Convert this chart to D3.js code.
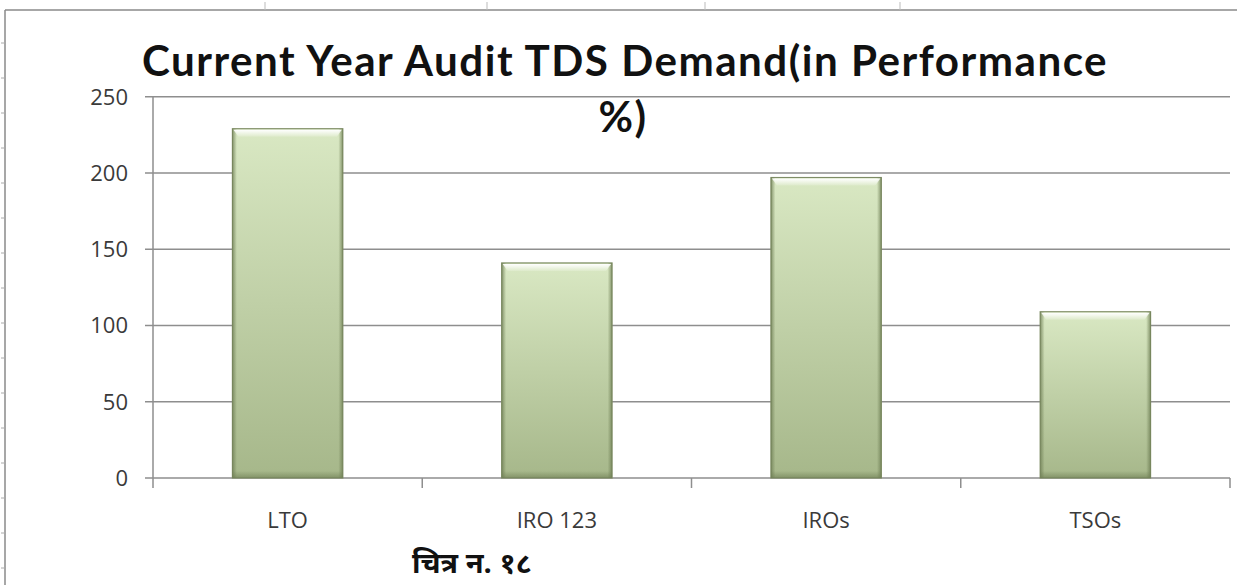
<!DOCTYPE html>
<html><head><meta charset="utf-8">
<script src="https://cdn.jsdelivr.net/npm/d3@7"></script>
<style>html,body{margin:0;padding:0;background:#fff;}svg{display:block;}</style>
</head><body>
<svg id="c" width="1237" height="585"></svg>
<script>
const categories = ["LTO", "IRO 123", "IROs", "TSOs"];
const values = [229, 141, 197, 109];
const yTicks = [0, 50, 100, 150, 200, 250];
const titleLines = ["Current Year Audit TDS Demand(in Performance", "%)"];
const caption = "चित्र न. १८";

const svg = d3.select("#c");
const W = 1237, H = 585;
const m = {left: 153, right: 1230, top: 96.7, bottom: 478};
const labelFont = "'Open Sans', Lato, sans-serif";

// frame
svg.append("line").attr("x1", 5).attr("x2", W).attr("y1", 10).attr("y2", 10)
  .attr("stroke", "#8a8a8a").attr("stroke-width", 1.5);
svg.append("line").attr("x1", 5).attr("x2", 5).attr("y1", 10).attr("y2", H)
  .attr("stroke", "#8a8a8a").attr("stroke-width", 1.5);
[265, 487, 705, 900].forEach(x => svg.append("line").attr("x1", x).attr("x2", x)
  .attr("y1", 2).attr("y2", 10).attr("stroke", "#bbb").attr("stroke-width", 1));
d3.range(43, H, 35).forEach(y => svg.append("line").attr("x1", 1).attr("x2", 5)
  .attr("y1", y).attr("y2", y).attr("stroke", "#aaa").attr("stroke-width", 1));

const x = d3.scaleBand().domain(categories).range([m.left, m.right]).paddingInner(0.59).paddingOuter(0.295);
const y = d3.scaleLinear().domain([0, 250]).range([m.bottom, m.top]);

// gridlines
svg.append("g").selectAll("line").data(yTicks).join("line")
  .attr("x1", m.left - 8).attr("x2", m.right)
  .attr("y1", d => y(d)).attr("y2", d => y(d))
  .attr("stroke", "#8e8e8e").attr("stroke-width", 1.5);

// y axis line
svg.append("line").attr("x1", m.left).attr("x2", m.left).attr("y1", m.top).attr("y2", m.bottom + 10)
  .attr("stroke", "#8e8e8e").attr("stroke-width", 1.5);
// category boundary ticks
const step = (m.right - m.left) / categories.length;
svg.append("g").selectAll("line").data(d3.range(1, categories.length + 1)).join("line")
  .attr("x1", i => m.left + i * step).attr("x2", i => m.left + i * step)
  .attr("y1", m.bottom).attr("y2", m.bottom + 10)
  .attr("stroke", "#8e8e8e").attr("stroke-width", 1.5);

// y tick labels
svg.append("g").selectAll("text").data(yTicks).join("text")
  .attr("x", 128).attr("y", d => y(d)).attr("dy", "0.36em")
  .attr("text-anchor", "end").attr("font-family", labelFont)
  .attr("font-size", 22).attr("fill", "#3a3a3a").text(d => d);

// defs
const defs = svg.append("defs");
const g1 = defs.append("linearGradient").attr("id", "body").attr("x1", 0).attr("x2", 0).attr("y1", 0).attr("y2", 1);
g1.append("stop").attr("offset", "0%").attr("stop-color", "#d9e8c3");
g1.append("stop").attr("offset", "100%").attr("stop-color", "#a6b78a");
const g2 = defs.append("linearGradient").attr("id", "edge").attr("x1", 0).attr("x2", 1).attr("y1", 0).attr("y2", 0);
g2.append("stop").attr("offset", "0%").attr("stop-color", "#6f7f55").attr("stop-opacity", 0.8);
g2.append("stop").attr("offset", "4%").attr("stop-color", "#6f7f55").attr("stop-opacity", 0.0);
g2.append("stop").attr("offset", "96%").attr("stop-color", "#6f7f55").attr("stop-opacity", 0.0);
g2.append("stop").attr("offset", "100%").attr("stop-color", "#6f7f55").attr("stop-opacity", 0.8);
const g3 = defs.append("linearGradient").attr("id", "hl").attr("x1", 0).attr("x2", 0).attr("y1", 0).attr("y2", 1);
g3.append("stop").attr("offset", "0%").attr("stop-color", "#ffffff").attr("stop-opacity", 1);
g3.append("stop").attr("offset", "100%").attr("stop-color", "#ffffff").attr("stop-opacity", 0.15);
const g4 = defs.append("linearGradient").attr("id", "bot").attr("x1", 0).attr("x2", 0).attr("y1", 0).attr("y2", 1);
g4.append("stop").attr("offset", "0%").attr("stop-color", "#6f7f55").attr("stop-opacity", 0);
g4.append("stop").attr("offset", "100%").attr("stop-color", "#6f7f55").attr("stop-opacity", 0.65);

const bars = svg.append("g").selectAll("g").data(categories.map((c, i) => ({c, v: values[i]}))).join("g");
bars.append("rect").attr("x", d => x(d.c)).attr("y", d => y(d.v))
  .attr("width", x.bandwidth()).attr("height", d => y(0) - y(d.v))
  .attr("fill", "url(#body)").attr("stroke", "#7f8d66").attr("stroke-width", 1.2);
bars.append("rect").attr("x", d => x(d.c)).attr("y", d => y(d.v))
  .attr("width", x.bandwidth()).attr("height", d => y(0) - y(d.v))
  .attr("fill", "url(#edge)");
bars.append("rect").attr("x", d => x(d.c)).attr("y", d => y(0) - 7)
  .attr("width", x.bandwidth()).attr("height", 7)
  .attr("fill", "url(#bot)");
bars.append("path").attr("d", d => {
  const x0 = x(d.c), x1 = x0 + x.bandwidth(), t = y(d.v);
  return `M${x0 + 1},${t + 1} L${x1 - 1},${t + 1} L${x1 - 6},${t + 8} L${x0 + 6},${t + 8} Z`;
}).attr("fill", "url(#hl)");

// category labels
svg.append("g").selectAll("text").data(categories).join("text")
  .attr("x", d => x(d) + x.bandwidth() / 2).attr("y", 528)
  .attr("text-anchor", "middle").attr("font-family", labelFont)
  .attr("font-size", 22).attr("fill", "#3a3a3a").text(d => d);

// title
const t1 = svg.append("text").attr("x", 625).attr("y", 76).attr("text-anchor", "middle")
  .attr("font-family", "Lato, 'Open Sans', sans-serif").attr("font-weight", "bold")
  .attr("letter-spacing", 1.5)
  .attr("font-size", 40).attr("fill", "#111").text(titleLines[0]);
const w = t1.node().getComputedTextLength();
const fs = 40 * 970 / w;
t1.attr("font-size", fs);
svg.append("text").attr("x", 623).attr("y", 132).attr("text-anchor", "middle")
  .attr("font-family", "Lato, 'Open Sans', sans-serif").attr("font-weight", "bold")
  .attr("letter-spacing", 1.5)
  .attr("font-size", fs).attr("fill", "#111").text(titleLines[1]);

// caption
svg.append("text").attr("x", 412).attr("y", 573)
  .attr("font-family", "'Noto Sans Devanagari', 'Lohit Devanagari', 'Noto Sans', sans-serif")
  .attr("font-weight", "bold").attr("font-size", 29).attr("fill", "#111").text(caption);
</script>
</body></html>
